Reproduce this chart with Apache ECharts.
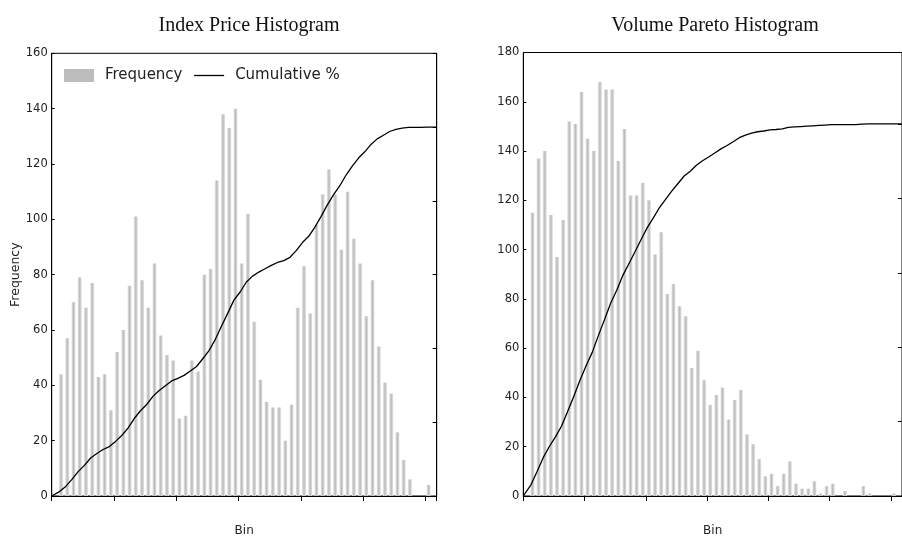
<!DOCTYPE html>
<html><head><meta charset="utf-8">
<script src="https://cdn.jsdelivr.net/npm/echarts@6/dist/echarts.min.js"></script>
<style>html,body{margin:0;padding:0;background:#fff}#c{width:902px;height:542px}</style>
</head><body><div id="c"></div>
<script>
// ---- data ----
const priceFreq = [44, 57, 70, 79, 68, 77, 43, 44, 31, 52, 60, 76, 101, 78, 68, 84, 58, 51, 49, 28,
  29, 49, 45, 80, 82, 114, 138, 133, 140, 84, 102, 63, 42, 34, 32, 32, 20, 33, 68, 83,
  66, 98, 109, 118, 109, 89, 110, 93, 84, 65, 78, 54, 41, 37, 23, 13, 6, 0, 0, 4];
const priceCumPct = [1.2, 2.6, 4.5, 6.6, 8.3, 10.3, 11.5, 12.6, 13.4, 14.8, 16.4, 18.4, 21.0, 23.1, 24.8, 27.0, 28.6, 29.9, 31.2, 31.9,
  32.7, 33.9, 35.1, 37.2, 39.4, 42.4, 46.0, 49.5, 53.1, 55.3, 58.0, 59.6, 60.7, 61.6, 62.5, 63.3, 63.8, 64.7, 66.5, 68.7,
  70.4, 72.9, 75.8, 78.9, 81.7, 84.1, 87.0, 89.4, 91.6, 93.3, 95.3, 96.8, 97.8, 98.8, 99.4, 99.7, 99.9, 99.9, 99.9, 100];
const volumeFreq = [115, 137, 140, 114, 97, 112, 152, 151, 164, 145, 140, 168, 165, 165, 136, 149, 122, 122, 127, 120,
  98, 107, 82, 86, 77, 73, 52, 59, 47, 37, 41, 44, 31, 39, 43, 25, 21, 15, 8, 9,
  4, 9, 14, 5, 3, 3, 6, 1, 4, 5, 0, 2, 0, 0, 4, 1, 0, 0, 0, 1];
const volumeCumPct = [3.0, 6.6, 10.3, 13.3, 15.9, 18.8, 22.8, 26.8, 31.1, 35.0, 38.6, 43.1, 47.4, 51.8, 55.3, 59.3, 62.5, 65.7, 69.0, 72.2,
  74.8, 77.6, 79.8, 82.0, 84.0, 86.0, 87.3, 88.9, 90.1, 91.1, 92.2, 93.3, 94.2, 95.2, 96.3, 97.0, 97.5, 97.9, 98.1, 98.4,
  98.5, 98.7, 99.1, 99.2, 99.3, 99.4, 99.5, 99.6, 99.7, 99.8, 99.8, 99.8, 99.8, 99.8, 99.95, 100, 100, 100, 100, 100];
const titles = ['Index Price Histogram', 'Volume Pareto Histogram'];
const freqAxisMax = [160, 180];
const cumAxisMax = [120, 119.2];
const axisStep = 20;
const binAxisMax = 61.8;
const binTickStep = 10;

// ---- chart ----
const FONT = 'DejaVu Sans';
const chart = echarts.init(document.getElementById('c'), null, {renderer: 'canvas'});
const barGrad = new echarts.graphic.LinearGradient(0, 0, 1, 0, [
  {offset: 0, color: '#e8e8e8'}, {offset: 0.5, color: '#bababa'}, {offset: 1, color: '#e8e8e8'}]);

const grids = [
  {left: 51.7, top: 53.3, width: 385, height: 446.7},
  {left: 523.3, top: 52.5, width: 385, height: 447.5}
];
const xAxes = [], yAxes = [], series = [];
[[priceFreq, priceCumPct], [volumeFreq, volumeCumPct]].forEach(([freq, cum], g) => {
  xAxes.push({
    type: 'value', gridIndex: g, min: 0, max: binAxisMax, interval: binTickStep,
    name: 'Bin', nameLocation: 'middle', nameGap: 29,
    nameTextStyle: {fontFamily: FONT, fontSize: 12, color: '#222'},
    axisLine: {lineStyle: {color: '#000', width: 1}},
    axisTick: {show: true, inside: false, length: 5, lineStyle: {color: '#000'}},
    axisLabel: {show: false}, splitLine: {show: false}
  });
  yAxes.push({
    type: 'value', gridIndex: g, min: 0, max: freqAxisMax[g], interval: axisStep, position: 'left',
    name: g === 0 ? 'Frequency' : '', nameLocation: 'middle', nameGap: 25,
    nameTextStyle: {fontFamily: FONT, fontSize: 12.5, color: '#222'},
    axisLine: {show: true, lineStyle: {color: '#000', width: 1}},
    axisTick: {show: true, inside: true, length: 3, lineStyle: {color: '#000'}},
    axisLabel: {fontFamily: FONT, fontSize: 11.5, color: '#222', margin: 4},
    splitLine: {show: false}
  });
  yAxes.push({
    type: 'value', gridIndex: g, min: 0, max: cumAxisMax[g], interval: axisStep, position: 'right',
    axisLine: {show: true, lineStyle: {color: '#000', width: 1}},
    axisTick: {show: true, inside: true, length: 4, lineStyle: {color: '#000'}},
    axisLabel: {show: false}, splitLine: {show: false}
  });
  series.push({
    name: 'Frequency', type: 'bar', xAxisIndex: g, yAxisIndex: g * 2,
    barWidth: 4, itemStyle: {color: barGrad},
    data: freq.map((v, i) => [i + 1.5, v]), animation: false
  });
  series.push({
    name: 'Cumulative %', type: 'line', xAxisIndex: g, yAxisIndex: g * 2 + 1,
    symbol: 'none', smooth: false, color: '#000',
    lineStyle: {color: '#000', width: 1.3},
    data: [[0, 0]].concat(cum.map((v, i) => [i + 1.25, v]), [[binAxisMax, cum[cum.length - 1]]]),
    animation: false, z: 5
  });
});

chart.setOption({
  animation: false,
  backgroundColor: '#fff',
  title: titles.map((t, i) => ({
    text: t, left: i === 0 ? 244 : 710, top: 11, textAlign: 'center',
    textStyle: {fontFamily: 'Liberation Serif', fontSize: 20, fontWeight: 'normal', color: '#111'}
  })),
  legend: {
    left: 64, top: 68, padding: 0, itemWidth: 30, itemHeight: 13, itemGap: 11,
    textStyle: {fontFamily: FONT, fontSize: 15, color: '#222', padding: [0, 0, 0, 6]},
    data: [
      {name: 'Frequency', icon: 'rect', itemStyle: {color: '#bdbdbd'}},
      {name: 'Cumulative %', itemStyle: {opacity: 0}, lineStyle: {color: '#000', width: 1.3}}
    ]
  },
  grid: grids.map(g => Object.assign({show: true, borderColor: '#000', borderWidth: 1, backgroundColor: 'transparent'}, g)),
  xAxis: xAxes,
  yAxis: yAxes,
  series: series
});
</script></body></html>
